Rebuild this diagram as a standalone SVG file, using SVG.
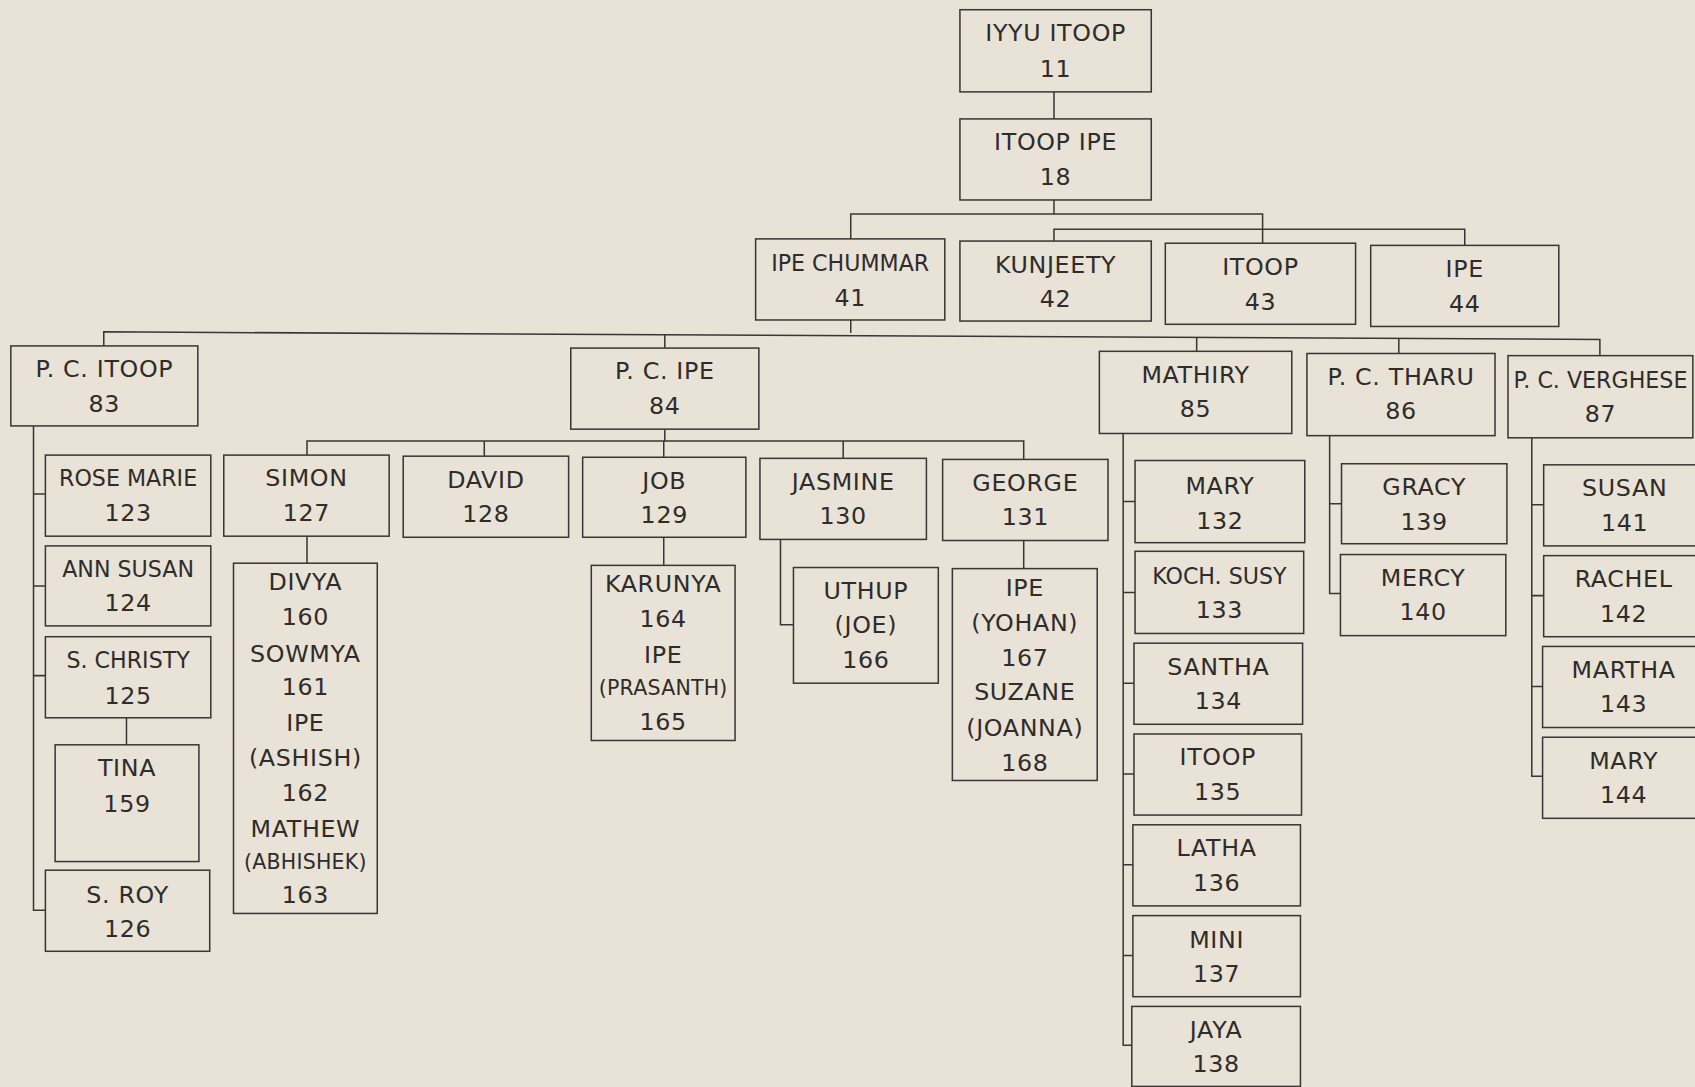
<svg xmlns="http://www.w3.org/2000/svg" width="1695" height="1087" viewBox="0 0 1695 1087">
<style>
.b{fill:none;stroke:#3b3633;stroke-width:1.4}
.c{fill:none;stroke:#3b3633;stroke-width:1.4}
text{font-family:"DejaVu Sans","Liberation Sans",sans-serif;font-size:22px;fill:#302c29;text-anchor:middle;letter-spacing:0.6px}
text.s{font-size:19px;letter-spacing:0.2px}
text.n{letter-spacing:0px;font-size:20.5px}
</style>
<rect x="0" y="0" width="1695" height="1087" fill="#e8e2d7"/>
<g transform="scale(1.081)">
<g id="connectors">
<path class="c" d="M975 85V110"/>
<path class="c" d="M975 185V198"/>
<path class="c" d="M787 221V198H1168V225"/>
<path class="c" d="M975 223V212H1355V227"/>
<path class="c" d="M787 296V308"/>
<path class="c" d="M96 320V307L1480 314V329"/>
<path class="c" d="M615 322V310"/>
<path class="c" d="M1107 325V312"/>
<path class="c" d="M1294 327V313"/>
<path class="c" d="M615 397V408"/>
<path class="c" d="M284 421V408H947V425"/>
<path class="c" d="M448 408V422"/>
<path class="c" d="M614 408V423"/>
<path class="c" d="M780 408V424"/>
<path class="c" d="M284 496V521"/>
<path class="c" d="M614 497V523"/>
<path class="c" d="M722 499V578H734"/>
<path class="c" d="M947 500V526"/>
<path class="c" d="M31 394V842H42"/>
<path class="c" d="M31 457H42M31 542H42M31 625H42"/>
<path class="c" d="M117 664V689"/>
<path class="c" d="M1039 401V967H1047"/>
<path class="c" d="M1039 464H1050M1039 548H1050M1039 632H1049M1039 716H1049M1039 800H1048M1039 884H1048"/>
<path class="c" d="M1230 403V549H1240"/>
<path class="c" d="M1230 466H1241"/>
<path class="c" d="M1417 405V718H1427"/>
<path class="c" d="M1417 467H1428M1417 551H1428M1417 635H1427"/>
</g>
<g id="n11"><rect class="b" x="888" y="9" width="177" height="76"/><text x="976.5" y="38">IYYU ITOOP</text><text x="976.5" y="71">11</text></g>
<g id="n18"><rect class="b" x="888" y="110" width="177" height="75"/><text x="976.5" y="139">ITOOP IPE</text><text x="976.5" y="171">18</text></g>
<g id="n41"><rect class="b" x="699" y="221" width="175" height="75"/><text x="786.5" y="251" class="n">IPE CHUMMAR</text><text x="786.5" y="283">41</text></g>
<g id="n42"><rect class="b" x="888" y="223" width="177" height="74"/><text x="976.5" y="253">KUNJEETY</text><text x="976.5" y="284">42</text></g>
<g id="n43"><rect class="b" x="1078" y="225" width="176" height="75"/><text x="1166" y="254">ITOOP</text><text x="1166" y="287">43</text></g>
<g id="n44"><rect class="b" x="1268" y="227" width="174" height="75"/><text x="1355" y="256">IPE</text><text x="1355" y="289">44</text></g>
<g id="n83"><rect class="b" x="10" y="320" width="173" height="74"/><text x="96.5" y="349">P. C. ITOOP</text><text x="96.5" y="381">83</text></g>
<g id="n84"><rect class="b" x="528" y="322" width="174" height="75"/><text x="615" y="351">P. C. IPE</text><text x="615" y="383">84</text></g>
<g id="n85"><rect class="b" x="1017" y="325" width="178" height="76"/><text x="1106" y="354">MATHIRY</text><text x="1106" y="386">85</text></g>
<g id="n86"><rect class="b" x="1209" y="327" width="174" height="76"/><text x="1296" y="356">P. C. THARU</text><text x="1296" y="388">86</text></g>
<g id="n87"><rect class="b" x="1395" y="329" width="171" height="76"/><text x="1480.5" y="359" class="n">P. C. VERGHESE</text><text x="1480.5" y="390">87</text></g>
<g id="n123"><rect class="b" x="42" y="421" width="153" height="75"/><text x="118.5" y="450" class="n">ROSE MARIE</text><text x="118.5" y="482">123</text></g>
<g id="n124"><rect class="b" x="42" y="505" width="153" height="74"/><text x="118.5" y="534" class="n">ANN SUSAN</text><text x="118.5" y="565">124</text></g>
<g id="n125"><rect class="b" x="42" y="589" width="153" height="75"/><text x="118.5" y="618" class="n">S. CHRISTY</text><text x="118.5" y="651">125</text></g>
<g id="n159"><rect class="b" x="51" y="689" width="133" height="108"/><text x="117.5" y="718">TINA</text><text x="117.5" y="751">159</text></g>
<g id="n126"><rect class="b" x="42" y="805" width="152" height="75"/><text x="118" y="835">S. ROY</text><text x="118" y="867">126</text></g>
<g id="n127"><rect class="b" x="207" y="421" width="153" height="75"/><text x="283.5" y="450">SIMON</text><text x="283.5" y="482">127</text></g>
<g id="n128"><rect class="b" x="373" y="422" width="153" height="75"/><text x="449.5" y="451">DAVID</text><text x="449.5" y="483">128</text></g>
<g id="n129"><rect class="b" x="539" y="423" width="151" height="74"/><text x="614.5" y="452">JOB</text><text x="614.5" y="484">129</text></g>
<g id="n130"><rect class="b" x="703" y="424" width="154" height="75"/><text x="780" y="453">JASMINE</text><text x="780" y="485">130</text></g>
<g id="n131"><rect class="b" x="872" y="425" width="153" height="75"/><text x="948.5" y="454">GEORGE</text><text x="948.5" y="486">131</text></g>
<g id="n160"><rect class="b" x="216" y="521" width="133" height="324"/><text x="282.5" y="546">DIVYA</text><text x="282.5" y="578">160</text><text x="282.5" y="612">SOWMYA</text><text x="282.5" y="643">161</text><text x="282.5" y="676">IPE</text><text x="282.5" y="709">(ASHISH)</text><text x="282.5" y="741">162</text><text x="282.5" y="774">MATHEW</text><text x="282.5" y="804" class="s">(ABHISHEK)</text><text x="282.5" y="835">163</text></g>
<g id="n164"><rect class="b" x="547" y="523" width="133" height="162"/><text x="613.5" y="548">KARUNYA</text><text x="613.5" y="580">164</text><text x="613.5" y="613">IPE</text><text x="613.5" y="643" class="s">(PRASANTH)</text><text x="613.5" y="675">165</text></g>
<g id="n166"><rect class="b" x="734" y="525" width="134" height="107"/><text x="801" y="554">UTHUP</text><text x="801" y="586">(JOE)</text><text x="801" y="618">166</text></g>
<g id="n167"><rect class="b" x="881" y="526" width="134" height="196"/><text x="948" y="551">IPE</text><text x="948" y="584">(YOHAN)</text><text x="948" y="616">167</text><text x="948" y="648">SUZANE</text><text x="948" y="681">(JOANNA)</text><text x="948" y="713">168</text></g>
<g id="n132"><rect class="b" x="1050" y="426" width="157" height="76"/><text x="1128.5" y="457">MARY</text><text x="1128.5" y="489">132</text></g>
<g id="n133"><rect class="b" x="1050" y="510" width="156" height="76"/><text x="1128" y="540" class="n">KOCH. SUSY</text><text x="1128" y="572">133</text></g>
<g id="n134"><rect class="b" x="1049" y="595" width="156" height="75"/><text x="1127" y="624">SANTHA</text><text x="1127" y="656">134</text></g>
<g id="n135"><rect class="b" x="1049" y="679" width="155" height="75"/><text x="1126.5" y="708">ITOOP</text><text x="1126.5" y="740">135</text></g>
<g id="n136"><rect class="b" x="1048" y="763" width="155" height="75"/><text x="1125.5" y="792">LATHA</text><text x="1125.5" y="824">136</text></g>
<g id="n137"><rect class="b" x="1048" y="847" width="155" height="75"/><text x="1125.5" y="877">MINI</text><text x="1125.5" y="908">137</text></g>
<g id="n138"><rect class="b" x="1047" y="931" width="156" height="74"/><text x="1125" y="960">JAYA</text><text x="1125" y="992">138</text></g>
<g id="n139"><rect class="b" x="1241" y="429" width="153" height="74"/><text x="1317.5" y="458">GRACY</text><text x="1317.5" y="490">139</text></g>
<g id="n140"><rect class="b" x="1240" y="513" width="153" height="75"/><text x="1316.5" y="542">MERCY</text><text x="1316.5" y="574">140</text></g>
<g id="n141"><rect class="b" x="1428" y="430" width="150" height="75"/><text x="1503" y="459">SUSAN</text><text x="1503" y="491">141</text></g>
<g id="n142"><rect class="b" x="1428" y="514" width="150" height="75"/><text x="1502" y="543">RACHEL</text><text x="1502" y="575">142</text></g>
<g id="n143"><rect class="b" x="1427" y="598" width="151" height="75"/><text x="1502" y="627">MARTHA</text><text x="1502" y="659">143</text></g>
<g id="n144"><rect class="b" x="1427" y="682" width="151" height="75"/><text x="1502" y="711">MARY</text><text x="1502" y="743">144</text></g>
</g>
</svg>
